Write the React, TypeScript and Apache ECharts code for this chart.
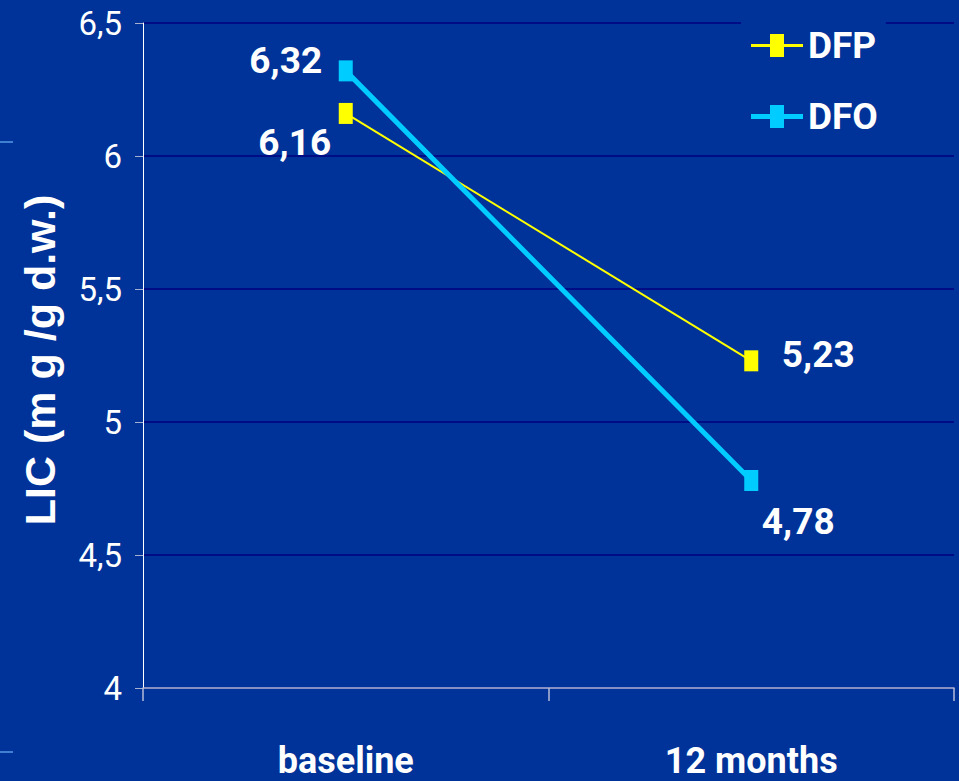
import React, { useEffect, useRef } from "react";
import * as echarts from "echarts";

// Liver iron concentration at baseline and after 12 months
const categories = ["baseline", "12 months"];
const dfpValues = [6.16, 5.23];
const dfoValues = [6.32, 4.78];
const yTicks = { min: 4, max: 6.5, interval: 0.5 };

const BG = "#003399";
const NARROW = "Roboto, 'Liberation Sans', sans-serif";
const WIDE = "'Liberation Sans', Arial, sans-serif";

const comma = (v: number) => String(v).replace(".", ",");

// per-point label offsets (text centre relative to the marker)
const dfpLabelOffsets = [
  [-51, 29],
  [67, -6],
];
const dfoLabelOffsets = [
  [-60, -10],
  [47, 41],
];

const labelStyle = {
  show: true,
  position: "inside" as const,
  color: "#ffffff",
  fontFamily: NARROW,
  fontWeight: "bold" as const,
  fontSize: 37,
  formatter: (p: any) => comma(p.value),
};

export default function App() {
  const ref = useRef<HTMLDivElement>(null);

  useEffect(() => {
    if (!ref.current) return;
    const chart = echarts.init(ref.current, undefined, { renderer: "svg" });
    chart.setOption({
      animation: false,
      backgroundColor: BG,
      grid: { left: 143, right: 5, top: 23, bottom: 93 },
      legend: {
        orient: "vertical",
        left: 741,
        top: 13,
        padding: [14, 8, 14, 10],
        backgroundColor: BG,
        itemWidth: 52,
        itemHeight: 23,
        itemGap: 34,
        textStyle: {
          color: "#ffffff",
          fontFamily: NARROW,
          fontWeight: "bold",
          fontSize: 37,
          lineHeight: 36,
        },
        data: [
          {
            name: "DFP",
            icon: "path://M0,10L52,10L52,13L0,13Z M19,0L33,0L33,23L19,23Z",
          },
          {
            name: "DFO",
            icon: "path://M0,9L52,9L52,14L0,14Z M19,0L33,0L33,23L19,23Z",
          },
        ],
      },
      xAxis: {
        type: "category",
        data: categories,
        boundaryGap: true,
        axisLine: { lineStyle: { color: "#b4bcd8", width: 1.5 } },
        axisTick: { show: true, length: 13, lineStyle: { color: "#b4bcd8", width: 1.5 } },
        axisLabel: {
          color: "#ffffff",
          fontFamily: NARROW,
          fontWeight: "bold",
          fontSize: 36,
          margin: 55,
        },
        splitLine: { show: false },
      },
      yAxis: {
        type: "value",
        min: yTicks.min,
        max: yTicks.max,
        interval: yTicks.interval,
        axisLine: { show: true, lineStyle: { color: "#ffffff", width: 1 } },
        axisTick: { show: true, length: 8, lineStyle: { color: "#a8b0d0" } },
        axisLabel: {
          color: "#ffffff",
          fontFamily: NARROW,
          fontSize: 33,
          margin: 21,
          formatter: (v: number) => comma(v),
        },
        splitLine: { show: true, lineStyle: { color: "#000080", width: 1.5 } },
      },
      graphic: [
        {
          type: "text",
          x: 40,
          y: 360,
          rotation: Math.PI / 2,
          style: {
            text: "LIC (m g /g d.w.)",
            fill: "#ffffff",
            font: `bold 43px ${WIDE}`,
            align: "center",
            verticalAlign: "middle",
          },
        },
        {
          type: "line",
          shape: { x1: 0, y1: 142, x2: 13, y2: 142 },
          style: { stroke: "#3f80d2", lineWidth: 2 },
        },
        {
          type: "line",
          shape: { x1: 0, y1: 752, x2: 13, y2: 752 },
          style: { stroke: "#3f80d2", lineWidth: 2 },
        },
      ],
      series: [
        {
          name: "DFP",
          type: "line",
          data: dfpValues.map((v, i) => ({
            value: v,
            label: { ...labelStyle, offset: dfpLabelOffsets[i] },
          })),
          symbol: "rect",
          symbolSize: [14, 21],
          lineStyle: { color: "#ffff00", width: 2 },
          itemStyle: { color: "#ffff00", borderWidth: 0 },
        },
        {
          name: "DFO",
          type: "line",
          data: dfoValues.map((v, i) => ({
            value: v,
            label: { ...labelStyle, offset: dfoLabelOffsets[i] },
          })),
          symbol: "rect",
          symbolSize: [14, 21],
          lineStyle: { color: "#00ccff", width: 5, cap: "round" },
          itemStyle: { color: "#00ccff", borderWidth: 0 },
        },
      ],
    });
    return () => chart.dispose();
  }, []);

  return (
    <div
      ref={ref}
      style={{ position: "fixed", left: 0, top: 0, width: 959, height: 781 }}
    />
  );
}
